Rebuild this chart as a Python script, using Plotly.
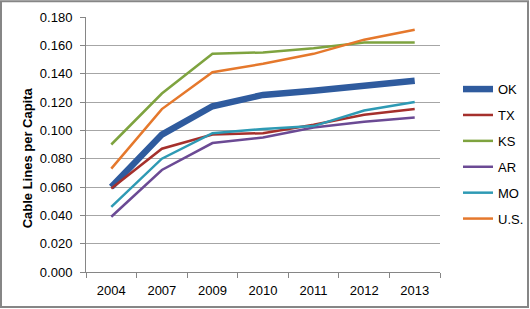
import plotly.graph_objects as go

years = ["2004", "2007", "2009", "2010", "2011", "2012", "2013"]
ok = [0.060, 0.097, 0.117, 0.125, 0.128, 0.132, 0.135]
tx = [0.059, 0.087, 0.097, 0.098, 0.104, 0.111, 0.115]
ks = [0.090, 0.126, 0.154, 0.155, 0.158, 0.162, 0.162]
ar = [0.039, 0.072, 0.091, 0.095, 0.102, 0.106, 0.109]
mo = [0.046, 0.080, 0.098, 0.101, 0.103, 0.114, 0.120]
us = [0.073, 0.115, 0.141, 0.147, 0.154, 0.164, 0.171]
yticks = [0.0, 0.02, 0.04, 0.06, 0.08, 0.10, 0.12, 0.14, 0.16, 0.18]

series = [
    ("OK", ok, "#2F5B9E", 6.5),
    ("TX", tx, "#A5302C", 2.5),
    ("KS", ks, "#7EA33F", 2.5),
    ("AR", ar, "#6B4A94", 2.5),
    ("MO", mo, "#2E9AB4", 2.5),
    ("U.S.", us, "#E5782C", 2.5),
]

fig = go.Figure()
for name, vals, color, w in series:
    fig.add_trace(go.Scatter(
        x=years, y=vals, name=name, mode="lines", legendgroup=name,
        line=dict(color=color, width=w, shape="linear"),
    ))

W, H = 530, 309
L, R, T, B = 86, 440, 16.7, 272.5
pw, ph = R - L, B - T

def px(x):
    return (x - L) / pw

def py(y):
    return (B - y) / ph

fig.update_layout(
    width=W, height=H,
    margin=dict(l=L, r=W - R, t=T, b=H - B, pad=0, autoexpand=False),
    paper_bgcolor="white", plot_bgcolor="white",
    font=dict(family="Liberation Sans, Arial, sans-serif", size=13, color="#000000"),
    showlegend=True,
    legend=dict(x=px(458), xanchor="left", y=py(74), yanchor="top",
                tracegroupgap=6, itemwidth=30, font=dict(size=13),
                bgcolor="rgba(0,0,0,0)"),
    xaxis=dict(
        type="category", range=[-0.5, 6.5], showgrid=False,
        showline=True, linecolor="#868686", linewidth=1,
        ticks="outside", ticklen=5, tickcolor="#868686", tickson="boundaries",
        tickfont=dict(size=13), ticklabelstandoff=6, fixedrange=True,
    ),
    yaxis=dict(
        range=[0, 0.18], tickvals=yticks, tickformat=".3f",
        showgrid=True, gridcolor="#A6A6A6", gridwidth=1,
        showline=True, linecolor="#868686", linewidth=1,
        ticks="outside", ticklen=5, tickcolor="#868686",
        tickfont=dict(size=13), ticklabelstandoff=5, zeroline=False,
    ),
    annotations=[dict(text="<b>Cable Lines per Capita</b>", textangle=-90,
                      xref="paper", yref="paper", x=px(27.5), y=py(158),
                      xanchor="center", yanchor="middle", showarrow=False,
                      font=dict(size=13))],
    shapes=[dict(type="rect", xref="paper", yref="paper",
                 x0=px(1), x1=px(528), y0=py(307.5), y1=py(1),
                 line=dict(color="#868686", width=2), fillcolor="rgba(0,0,0,0)", layer="below")],
)

fig.write_html("out.html", config={"displayModeBar": False},
               post_script="document.body.style.margin='0';document.body.style.overflow='hidden';")
